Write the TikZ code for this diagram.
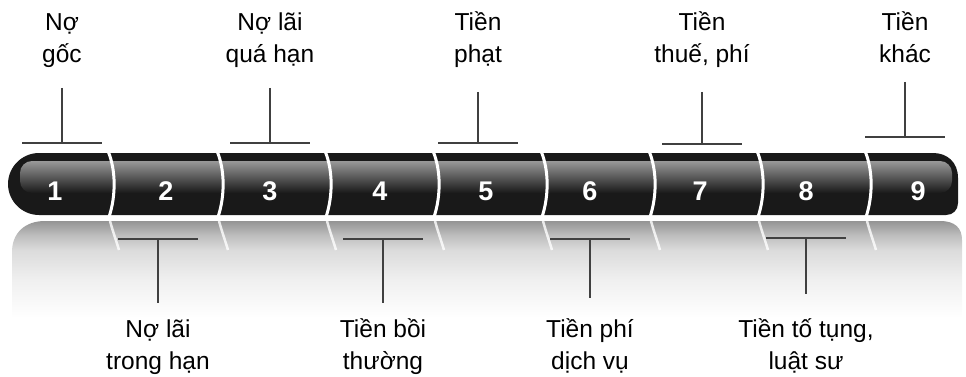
\documentclass[tikz,border=0pt]{standalone}
\usepackage{fontspec}
\setmainfont{Liberation Sans}
\pgfdeclareverticalshading{refl}{100bp}{color(0bp)=(white); color(25bp)=(white); color(44.6bp)=(black!6); color(60bp)=(black!14); color(67.8bp)=(black!26); color(75bp)=(black!42); color(100bp)=(black!42)}
\begin{document}
\begin{tikzpicture}[x=1pt,y=-1pt,
  lab/.style={anchor=north,align=center,inner sep=0pt,font=\fontsize{24.5}{32}\selectfont},
  num/.style={anchor=base,text=white,font=\fontsize{27}{30}\selectfont\bfseries},
  tee/.style={draw=black!75,line width=1.2pt},
  divider/.style={draw=white,line width=3pt},
  refdiv/.style={draw=white,line width=2.5pt,opacity=0.8}]
\useasboundingbox (0,0) rectangle (966,377);
% reflection
\shade[shading=refl]
  (45,221) -- (940,221) .. controls (955,221) and (962,228) .. (962,240)
  -- (962,318) -- (12,318) -- (12,252) .. controls (12,233) and (25,221) .. (45,221) -- cycle;
\foreach \x in {108,217,325,433,541,649,757,865}{
  \draw[refdiv] (\x+2,221) .. controls (\x+5,232) and (\x+8,240) .. (\x+11,250);
}
% bar
\fill[black!90] (39,153) -- (933,153) .. controls (947,153) and (958,162) .. (958,178)
  -- (958,203) .. controls (958,210) and (953,215) .. (946,215) -- (39,215)
  .. controls (22,215) and (8,201) .. (8,184) .. controls (8,167) and (22,153) .. (39,153) -- cycle;
\shade[top color=black!40,bottom color=black!90,rounded corners=12pt] (20,161) rectangle (952,193);
\foreach \x in {108,217,325,433,541,649,757,865}{
  \draw[divider] (\x,151) .. controls (\x+8,170) and (\x+8,196) .. (\x+1,217);
}
% numbers
\foreach \n/\x in {1/55,2/166,3/270,4/380,5/486,6/590,7/700,8/806,9/918}{
  \node[num] (n\n) at (\x,200) {\n};
}
% upper labels
\node[lab] (L1) at (62,7.6) {\strut Nợ\\\strut gốc};
\node[lab] (L3) at (270,7.6) {\strut Nợ lãi\\\strut quá hạn};
\node[lab] (L5) at (478,7.6) {\strut Tiền\\\strut phạt};
\node[lab] (L7) at (702,7.6) {\strut Tiền\\\strut thuế, phí};
\node[lab] (L9) at (905,7.6) {\strut Tiền\\\strut khác};
% lower labels
\node[lab] (L2) at (158,314.6) {\strut Nợ lãi\\\strut trong hạn};
\node[lab] (L4) at (383,314.6) {\strut Tiền bồi\\\strut thường};
\node[lab] (L6) at (590,314.6) {\strut Tiền phí\\\strut dịch vụ};
\node[lab] (L8) at (806,314.6) {\strut Tiền tố tụng,\\\strut luật sư};
% upper tees
\foreach \i/\x/\yt/\yb in {1/62/88/143,3/270/88/143,5/478/92/143,7/702/92/144,9/905/82/137}{
  \coordinate (ut\i) at (\x,\yt);
  \coordinate (ub\i) at (\x,\yb);
  \coordinate (ul\i) at (\x-40,\yb);
  \coordinate (ur\i) at (\x+40,\yb);
  \draw[tee] (ut\i) -- (ub\i);
  \draw[tee] (ul\i) -- (ur\i);
}
% lower tees
\foreach \i/\x/\yt/\yb in {2/158/239/303,4/383/239/303,6/590/239/298,8/806/238/294}{
  \coordinate (lt\i) at (\x,\yt);
  \coordinate (lb\i) at (\x,\yb);
  \coordinate (ll\i) at (\x-40,\yt);
  \coordinate (lr\i) at (\x+40,\yt);
  \draw[tee] (lt\i) -- (lb\i);
  \draw[tee] (ll\i) -- (lr\i);
}
\end{tikzpicture}
\end{document}
